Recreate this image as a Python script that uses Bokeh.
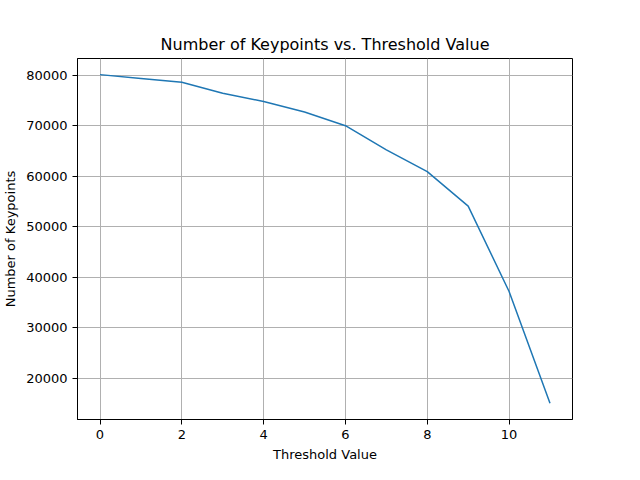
from bokeh.plotting import figure
from bokeh.models import Range1d, FixedTicker, NumeralTickFormatter
from bokeh.embed import file_html
from bokeh.resources import INLINE

thresholds = [0, 1, 2, 3, 4, 5, 6, 7, 8, 9, 10, 11]
keypoints = [80100, 79350, 78600, 76400, 74800, 72700, 70000, 65200, 60900, 54100, 37200, 15100]

p = figure(width=624, height=464, output_backend="svg", toolbar_location=None,
           title="Number of Keypoints vs. Threshold Value",
           x_axis_label="Threshold Value", y_axis_label="Number of Keypoints",
           x_range=Range1d(-0.55, 11.55), y_range=Range1d(11880, 83290),
           min_border_left=76, min_border_right=52, min_border_top=58, min_border_bottom=37)

p.line(thresholds, keypoints, line_width=1.5, color="#1f77b4")

p.title.align = "center"
p.title.text_font = "DejaVu Sans"
p.title.text_font_size = "16px"
p.title.text_font_style = "normal"
p.title.text_color = "black"
p.outline_line_color = "black"
p.outline_line_alpha = 1

p.xaxis.ticker = FixedTicker(ticks=[0, 2, 4, 6, 8, 10])
p.yaxis.ticker = FixedTicker(ticks=[20000, 30000, 40000, 50000, 60000, 70000, 80000])
p.yaxis.formatter = NumeralTickFormatter(format="0")
for ax in (p.xaxis, p.yaxis):
    ax.axis_label_text_font = "DejaVu Sans"
    ax.axis_label_text_font_size = "13px"
    ax.axis_label_text_font_style = "normal"
    ax.axis_label_text_color = "black"
    ax.major_label_text_font = "DejaVu Sans"
    ax.major_label_text_font_size = "13px"
    ax.major_label_text_color = "black"
    ax.minor_tick_line_color = None
    ax.major_tick_out = 5
    ax.major_tick_in = 0
    ax.axis_line_color = "black"
    ax.major_tick_line_color = "black"
p.grid.grid_line_color = "#b0b0b0"
p.grid.grid_line_width = 1

open("out.html", "w").write(file_html(p, INLINE))
